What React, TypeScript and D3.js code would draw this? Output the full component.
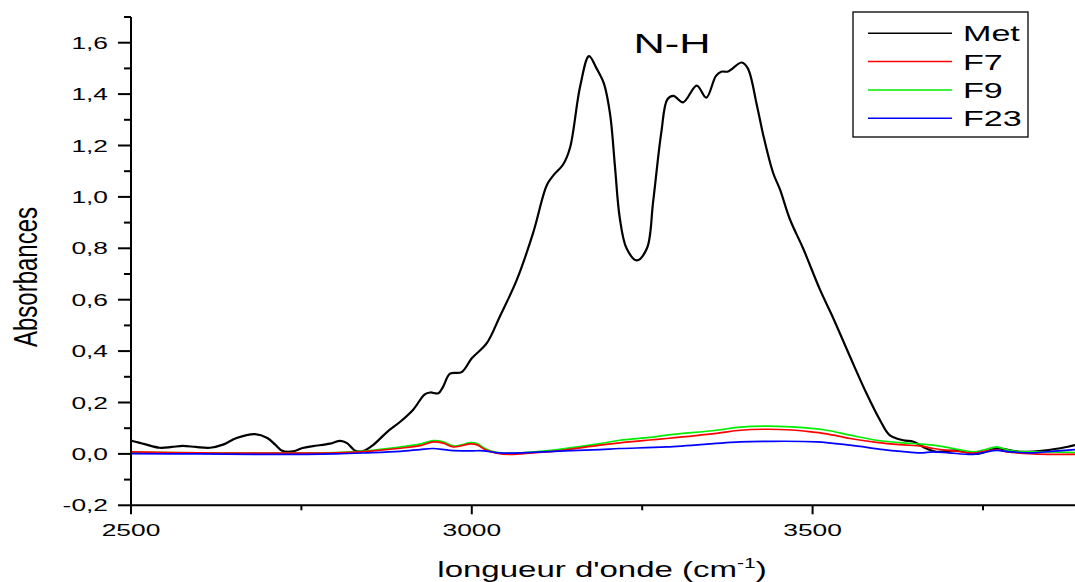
import React from "react";
import * as d3 from "d3";

// ---------- data ----------
const metWn = [2500, 2520, 2542, 2560, 2576, 2595, 2616, 2635, 2655, 2682, 2700, 2712, 2722, 2738, 2752, 2767, 2792, 2807, 2817, 2829, 2840, 2855, 2876, 2895, 2914, 2931, 2939, 2951, 2958, 2968, 2985, 3000, 3022, 3041, 3066, 3090, 3110, 3120, 3134, 3144, 3159, 3172, 3183, 3194, 3203, 3210, 3217, 3227, 3242, 3257, 3266, 3278, 3287, 3296, 3310, 3330, 3344, 3358, 3366, 3376, 3396, 3405, 3418, 3428, 3442, 3452, 3467, 3486, 3511, 3530, 3555, 3579, 3599, 3613, 3633, 3648, 3667, 3682, 3711, 3741, 3770, 3804, 3843, 3873, 3885];
const metAbs = [0.052, 0.038, 0.024, 0.027, 0.031, 0.027, 0.024, 0.036, 0.062, 0.077, 0.062, 0.035, 0.012, 0.010, 0.023, 0.030, 0.040, 0.051, 0.042, 0.012, 0.010, 0.034, 0.086, 0.125, 0.172, 0.232, 0.239, 0.236, 0.262, 0.312, 0.318, 0.372, 0.431, 0.534, 0.677, 0.860, 1.045, 1.085, 1.126, 1.190, 1.431, 1.548, 1.500, 1.440, 1.320, 1.120, 0.920, 0.800, 0.753, 0.800, 0.980, 1.250, 1.380, 1.393, 1.368, 1.433, 1.386, 1.470, 1.487, 1.488, 1.523, 1.500, 1.360, 1.236, 1.094, 1.030, 0.911, 0.800, 0.638, 0.530, 0.378, 0.236, 0.131, 0.073, 0.053, 0.047, 0.021, 0.008, 0.014, 0.000, 0.021, 0.008, 0.014, 0.027, 0.034];

const f9Wn = [2500, 2600, 2700, 2800, 2846, 2895, 2924, 2944, 2958, 2973, 2985, 2998, 3008, 3020, 3036, 3056, 3090, 3120, 3188, 3217, 3261, 3286, 3359, 3394, 3433, 3470, 3491, 3521, 3555, 3594, 3628, 3660, 3677, 3706, 3736, 3752, 3770, 3785, 3799, 3848, 3885];
const f9Abs = [0.006, 0.004, 0.003, 0.005, 0.012, 0.027, 0.038, 0.052, 0.047, 0.031, 0.035, 0.044, 0.040, 0.020, 0.006, 0.002, 0.008, 0.015, 0.040, 0.053, 0.064, 0.073, 0.092, 0.104, 0.108, 0.105, 0.101, 0.092, 0.073, 0.053, 0.044, 0.038, 0.034, 0.021, 0.008, 0.016, 0.027, 0.016, 0.010, 0.008, 0.005];

const f7Wn = [2500, 2600, 2700, 2800, 2846, 2895, 2924, 2944, 2958, 2973, 2985, 2998, 3008, 3020, 3036, 3056, 3090, 3120, 3188, 3217, 3261, 3286, 3359, 3394, 3433, 3470, 3491, 3521, 3555, 3594, 3628, 3660, 3677, 3706, 3736, 3752, 3770, 3785, 3823, 3885];
const f7Abs = [0.008, 0.004, 0.003, 0.004, 0.010, 0.022, 0.032, 0.047, 0.042, 0.027, 0.032, 0.039, 0.035, 0.016, 0.003, -0.002, 0.004, 0.010, 0.034, 0.043, 0.054, 0.060, 0.080, 0.092, 0.096, 0.093, 0.088, 0.078, 0.060, 0.045, 0.036, 0.030, 0.021, 0.012, 0.003, 0.010, 0.016, 0.008, 0.000, -0.002];

const f23Wn = [2500, 2600, 2700, 2800, 2846, 2895, 2924, 2943, 2968, 3000, 3017, 3036, 3056, 3120, 3188, 3217, 3286, 3393, 3432, 3506, 3555, 3604, 3630, 3658, 3677, 3700, 3736, 3752, 3770, 3790, 3823, 3850, 3885];
const f23Abs = [0.001, 0.000, -0.002, 0.000, 0.004, 0.010, 0.017, 0.021, 0.014, 0.012, 0.012, 0.005, 0.003, 0.010, 0.017, 0.021, 0.027, 0.047, 0.049, 0.047, 0.034, 0.017, 0.010, 0.004, 0.008, 0.004, -0.002, 0.006, 0.014, 0.008, 0.004, 0.010, 0.017];

const seriesNames = ["Met", "F7", "F9", "F23"];
const seriesColors = ["#000000", "#ff0000", "#00ee00", "#0000ff"];

const xTicks = [2500, 3000, 3500];
const xTickLabels = ["2500", "3000", "3500"];
const xMinorTicks = [2750, 3250, 3750];
const yTicks = [-0.2, 0, 0.2, 0.4, 0.6, 0.8, 1.0, 1.2, 1.4, 1.6];
const yTickLabels = ["-0,2", "0,0", "0,2", "0,4", "0,6", "0,8", "1,0", "1,2", "1,4", "1,6"];
const yMinorTicks = [-0.1, 0.1, 0.3, 0.5, 0.7, 0.9, 1.1, 1.3, 1.5, 1.7];

// ---------- layout ----------
const W = 1075;
const H = 582;
const left = 131;
const right = 1075;
const top = 17;
const bottom = 505.3;
const FONT = "'Liberation Sans', Arial, sans-serif";
const SX = 1.55;

const x = d3.scaleLinear().domain([2500, 3885]).range([left, right]);
const y = d3.scaleLinear().domain([-0.2, 1.7]).range([bottom, top]);

function ST({ x: tx, y: ty, size, anchor = "start", sx = SX, rotate = 0, children }: any) {
  return (
    <g transform={`translate(${tx},${ty}) scale(${sx},1)${rotate ? ` rotate(${rotate})` : ""}`}>
      <text x={0} y={0} fontSize={size} fontFamily={FONT} textAnchor={anchor} fill="#000">
        {children}
      </text>
    </g>
  );
}

export default function App() {
  const line = d3
    .line<[number, number]>()
    .x((d) => x(d[0]))
    .y((d) => y(d[1]))
    .curve(d3.curveCatmullRom.alpha(0.5));

  const zip = (a: number[], b: number[]) => a.map((v, i) => [v, b[i]] as [number, number]);
  const series = [
    { pts: zip(metWn, metAbs), w: 2.2 },
    { pts: zip(f7Wn, f7Abs), w: 1.7 },
    { pts: zip(f9Wn, f9Abs), w: 1.7 },
    { pts: zip(f23Wn, f23Abs), w: 1.7 },
  ];
  const drawOrder = [0, 2, 1, 3];

  const legX = 853, legY = 12, legW = 175, legH = 125;
  const legRow0 = 33.3, legStep = 28.3;

  return (
    <svg
      width={W}
      height={H}
      style={{ position: "absolute", left: 0, top: 0, background: "#fff" }}
    >
      <rect x={0} y={0} width={W} height={H} fill="#fff" />
      <defs>
        <clipPath id="plotclip">
          <rect x={left} y={top - 5} width={right - left} height={bottom - top + 5} />
        </clipPath>
      </defs>

      {/* series */}
      <g clipPath="url(#plotclip)">
        {drawOrder.map((i) => (
          <path
            key={i}
            d={line(series[i].pts) || ""}
            fill="none"
            stroke={seriesColors[i]}
            strokeWidth={series[i].w}
            strokeLinejoin="round"
          />
        ))}
      </g>

      {/* y axis */}
      <line x1={left} x2={left} y1={top} y2={bottom + 1} stroke="#000" strokeWidth={2} />
      {yTicks.map((t, i) => (
        <g key={"yt" + i}>
          <line x1={left - 13} x2={left} y1={y(t)} y2={y(t)} stroke="#000" strokeWidth={2} />
          <ST x={108} y={y(t) + 6} size={17} anchor="end">
            {yTickLabels[i]}
          </ST>
        </g>
      ))}
      {yMinorTicks.map((t, i) => (
        <line key={"ym" + i} x1={left - 7} x2={left} y1={y(t)} y2={y(t)} stroke="#000" strokeWidth={2} />
      ))}

      {/* x axis */}
      <line x1={left - 1} x2={right} y1={bottom} y2={bottom} stroke="#000" strokeWidth={2} />
      {xTicks.map((t, i) => (
        <g key={"xt" + i}>
          <line x1={x(t)} x2={x(t)} y1={bottom} y2={bottom + 9} stroke="#000" strokeWidth={2} />
          <ST x={x(t)} y={536} size={17} anchor="middle">
            {xTickLabels[i]}
          </ST>
        </g>
      ))}
      {xMinorTicks.map((t, i) => (
        <line key={"xm" + i} x1={x(t)} x2={x(t)} y1={bottom} y2={bottom + 5} stroke="#000" strokeWidth={2} />
      ))}

      {/* axis titles */}
      <g transform={`translate(602,577) scale(1.5,1)`}>
        <text x={0} y={0} fontSize={22} fontFamily={FONT} textAnchor="middle" fill="#000">
          longueur d'onde (cm
          <tspan dy={-9} fontSize={14}>-1</tspan>
          <tspan dy={9}>)</tspan>
        </text>
      </g>
      <g transform={`translate(37,277) scale(1.4,1) rotate(-90)`}>
        <text x={0} y={0} fontSize={24} fontFamily={FONT} textAnchor="middle" fill="#000">
          Absorbances
        </text>
      </g>

      {/* annotation */}
      <ST x={672} y={53} size={28} anchor="middle">
        N-H
      </ST>

      {/* legend */}
      <rect x={legX} y={legY} width={legW} height={legH} fill="#fff" stroke="#000" strokeWidth={1.3} />
      {seriesNames.map((n, i) => (
        <g key={n}>
          <line
            x1={868}
            x2={952}
            y1={legRow0 + i * legStep}
            y2={legRow0 + i * legStep}
            stroke={seriesColors[i]}
            strokeWidth={1.5}
          />
          <ST x={963} y={legRow0 + i * legStep + 8} size={22}>
            {n}
          </ST>
        </g>
      ))}
    </svg>
  );
}
